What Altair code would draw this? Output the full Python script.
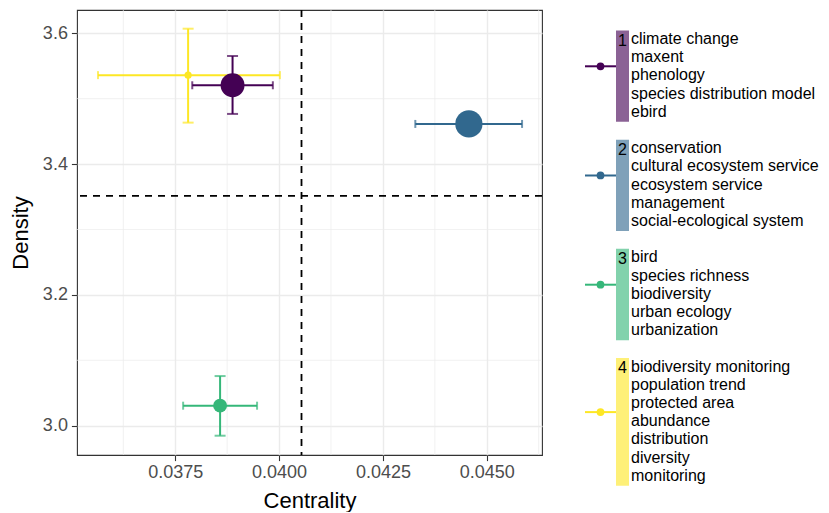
import altair as alt
import pandas as pd

# ---- data ----
clusters = ["1", "2", "3", "4"]
cluster_colors = ["#440154", "#31688E", "#35B779", "#FDE725"]
centrality = [0.03888, 0.04457, 0.03858, 0.03781]
centrality_lo = [0.03791, 0.04328, 0.03769, 0.03564]
centrality_hi = [0.03985, 0.04585, 0.03947, 0.04002]
density = [3.5205, 3.4614, 3.0306, 3.5360]
density_lo = [3.4767, 3.4580, 2.9847, 3.4634]
density_hi = [3.5653, 3.4650, 3.0759, 3.6070]
cluster_weight = [0.77, 1.00, 0.26, 0.07]
keywords = [
    ["climate change", "maxent", "phenology", "species distribution model", "ebird"],
    ["conservation", "cultural ecosystem service", "ecosystem service", "management",
     "social-ecological system"],
    ["bird", "species richness", "biodiversity", "urban ecology", "urbanization"],
    ["biodiversity monitoring", "population trend", "protected area", "abundance",
     "distribution", "diversity", "monitoring"],
]
centrality_ref = [0.04054]
density_ref = [3.3514]
x_ticks = [0.0375, 0.0400, 0.0425, 0.0450]
x_minor = [0.03625, 0.03875, 0.04125, 0.04375, 0.04625]
y_ticks = [3.0, 3.2, 3.4, 3.6]
y_minor = [3.1, 3.3, 3.5]
x_domain = [0.035135, 0.04633]
y_domain = [2.9552, 3.6356]

FONT = "Liberation Sans"

pts = pd.DataFrame({
    "cluster": clusters, "centrality": centrality, "clo": centrality_lo, "chi": centrality_hi,
    "density": density, "dlo": density_lo, "dhi": density_hi, "weight": cluster_weight,
})
xcaps = pd.DataFrame({
    "cluster": clusters * 2, "x": centrality_lo + centrality_hi, "y": density * 2,
})
ycaps = pd.DataFrame({
    "cluster": clusters * 2, "x": centrality * 2, "y": density_lo + density_hi,
})

xs = alt.Scale(domain=x_domain, nice=False, zero=False)
ys = alt.Scale(domain=y_domain, nice=False, zero=False)
color = alt.Color("cluster:N", scale=alt.Scale(domain=clusters, range=cluster_colors), legend=None)

axis_common = dict(
    grid=True, gridColor="#EBEBEB", gridWidth=1.4, domain=False,
    tickColor="#333333", tickSize=5.6, tickWidth=1.1,
    labelFont=FONT, labelFontSize=18, labelColor="#4D4D4D",
    titleFont=FONT, titleFontSize=22, titleColor="#000000", titleFontWeight="normal",
)
ax_x = alt.Axis(values=x_ticks, format=".4f", labelPadding=3, titlePadding=8.5, **axis_common)
ax_y = alt.Axis(values=y_ticks, format=".1f", labelPadding=4, titlePadding=10, **axis_common)

X = lambda f: alt.X(f, scale=xs, axis=ax_x, title="Centrality")
Y = lambda f: alt.Y(f, scale=ys, axis=ax_y, title="Density")

minor_x = alt.Chart(pd.DataFrame({"v": x_minor})).mark_rule(
    color="#EBEBEB", strokeWidth=0.7).encode(x=X("v:Q"))
minor_y = alt.Chart(pd.DataFrame({"v": y_minor})).mark_rule(
    color="#EBEBEB", strokeWidth=0.7).encode(y=Y("v:Q"))

vref = alt.Chart(pd.DataFrame({"v": centrality_ref})).mark_rule(
    color="#000000", strokeWidth=1.8, strokeDash=[7, 6]).encode(x=X("v:Q"))
href = alt.Chart(pd.DataFrame({"v": density_ref})).mark_rule(
    color="#000000", strokeWidth=1.8, strokeDash=[7, 6]).encode(y=Y("v:Q"))

base = alt.Chart(pts)
xbar = base.mark_rule(strokeWidth=2).encode(x=X("clo:Q"), x2="chi:Q", y=Y("density:Q"), color=color)
ybar = base.mark_rule(strokeWidth=2).encode(x=X("centrality:Q"), y=Y("dlo:Q"), y2="dhi:Q", color=color)
xcap = alt.Chart(xcaps).mark_tick(orient="vertical", size=8, thickness=2).encode(
    x=X("x:Q"), y=Y("y:Q"), color=color)
ycap = alt.Chart(ycaps).mark_tick(orient="horizontal", size=11, thickness=2).encode(
    x=X("x:Q"), y=Y("y:Q"), color=color)
points = base.mark_circle(opacity=1).encode(
    x=X("centrality:Q"), y=Y("density:Q"), color=color,
    size=alt.Size("weight:Q", scale=alt.Scale(domain=[0, 1], range=[0, 740]), legend=None),
)

main = alt.layer(minor_x, minor_y, vref, href, xbar, ybar, xcap, ycap, points).properties(
    width=465, height=445,
    view=alt.ViewBackground(stroke="#333333", strokeWidth=1.1, fill="white"),
)

# ---- custom legend ----
rows, groups = [], []
r = 0
for c, kws in zip(clusters, keywords):
    start = r
    for k in kws:
        rows.append({"cluster": c, "keyword": k, "row": r})
        r += 1
    end = r - 1
    groups.append({"cluster": c, "top": start - 0.47, "bottom": end + 0.55,
                   "first": start + 0.1, "key": (start + end - 1) / 2})
    r += 1
kw_df = pd.DataFrame(rows)
grp_df = pd.DataFrame(groups)

ls = alt.Scale(domain=[-1.593, 22.857], reverse=True, nice=False, zero=False)
LY = lambda f: alt.Y(f, scale=ls, axis=None)

bars = alt.Chart(grp_df).mark_rect(opacity=0.62).encode(
    x=alt.value(51), x2=alt.value(64), y=LY("top:Q"), y2="bottom:Q", color=color)
nums = alt.Chart(grp_df).mark_text(font=FONT, fontSize=16, align="center", baseline="middle",
                                    color="#000000").encode(
    x=alt.value(57.5), y=LY("first:Q"), text="cluster:N")
keyline = alt.Chart(grp_df).mark_rule(strokeWidth=2).encode(
    x=alt.value(20), x2=alt.value(51), y=LY("key:Q"), color=color)
keypt = alt.Chart(grp_df).mark_circle(opacity=1, size=60).encode(
    x=alt.value(35.5), y=LY("key:Q"), color=color)
kwtext = alt.Chart(kw_df).mark_text(font=FONT, fontSize=16, align="left", baseline="middle",
                                     color="#000000").encode(
    x=alt.value(66), y=LY("row:Q"), text="keyword:N")

legend = alt.layer(bars, keyline, keypt, nums, kwtext).properties(
    width=250, height=445,
    view=alt.ViewBackground(stroke="transparent"),
)

chart = alt.hconcat(main, legend, spacing=20).properties(
    padding={"left": 0, "top": 0, "right": 0, "bottom": 0},
    background="white",
)

chart.save("out.html", embed_options={"renderer": "svg", "actions": False})
